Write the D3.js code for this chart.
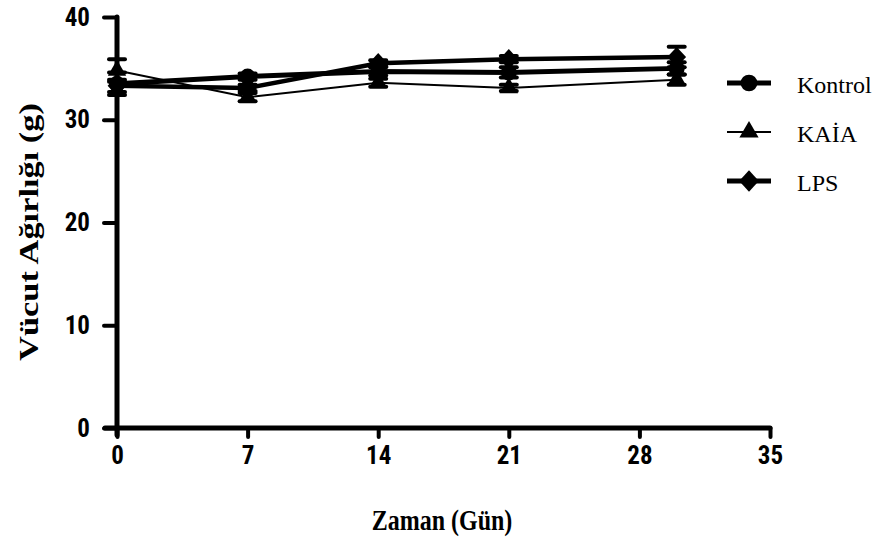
<!DOCTYPE html>
<html>
<head>
<meta charset="utf-8">
<script src="https://cdn.jsdelivr.net/npm/d3@7"></script>
<style>
  body { margin: 0; background: #fff; }
  .tick text { font-family: "Roboto Condensed", "Liberation Sans", Arial, sans-serif; font-weight: bold; }
  .serif { font-family: "Liberation Serif", "Times New Roman", serif; }
</style>
</head>
<body>
<div id="chart"></div>
<script>
// days and body weights (g)
var days = [0, 7, 14, 21, 30];
var kontrol = [33.5, 34.2, 34.7, 34.6, 35.0];
var kaia = [34.8, 32.2, 33.6, 33.1, 33.9];
var lps = [33.3, 33.1, 35.5, 35.9, 36.1];
var kontrolErr = [1.1, 0.3, 0.4, 0.5, 0.6];
var kaiaErr = [1.1, 0.4, 0.4, 0.3, 0.5];
var lpsErr = [0.6, 0.3, 0.3, 0.3, 1.0];
var xTicks = [0, 7, 14, 21, 28, 35];
var yTicks = [0, 10, 20, 30, 40];

const margin = { top: 17, right: 114, bottom: 115, left: 117 };
const width = 884 - margin.left - margin.right;
const height = 543 - margin.top - margin.bottom;

// wide diamond like the reference marker
var wideDiamond = {
  draw(ctx, size) {
    var h = Math.sqrt(size) * 0.72;
    var w = h * 0.92;
    ctx.moveTo(0, -h);
    ctx.lineTo(w, 0);
    ctx.lineTo(0, h);
    ctx.lineTo(-w, 0);
    ctx.closePath();
  }
};

var svg = d3.select("#chart")
  .append("svg")
  .attr("width", 884)
  .attr("height", 543);

var g = svg.append("g")
  .attr("transform", `translate(${margin.left},${margin.top})`);

var x = d3.scaleLinear().domain([0, 35]).range([0, width]);
var y = d3.scaleLinear().domain([0, 40]).range([height, 0]);

// axes
var xAxis = g.append("g")
  .attr("transform", `translate(0,${height})`)
  .call(d3.axisBottom(x).tickValues(xTicks).tickSize(9).tickPadding(9));
var yAxis = g.append("g")
  .call(d3.axisLeft(y).tickValues(yTicks).tickSize(13).tickPadding(14));

[xAxis, yAxis].forEach(a => {
  a.select(".domain").remove();
  a.selectAll(".tick line")
    .attr("stroke", "#000")
    .attr("stroke-width", 4)
    .attr("stroke-linecap", "round");
  a.selectAll(".tick text")
    .attr("fill", "#000")
    .style("font-size", "25px");
});

g.append("line")
  .attr("x1", -12).attr("x2", width)
  .attr("y1", height).attr("y2", height)
  .attr("stroke", "#000").attr("stroke-width", 5).attr("stroke-linecap", "round");
g.append("line")
  .attr("x1", 0).attr("x2", 0)
  .attr("y1", 0).attr("y2", height + 7)
  .attr("stroke", "#000").attr("stroke-width", 5).attr("stroke-linecap", "round");

// series
var series = [
  { name: "Kontrol", vals: kontrol, err: kontrolErr, width: 5, symbol: d3.symbolCircle, size: 200 },
  { name: "KAİA", vals: kaia, err: kaiaErr, width: 2, symbol: d3.symbolTriangle, size: 145 },
  { name: "LPS", vals: lps, err: lpsErr, width: 4.5, symbol: wideDiamond, size: 200 }
];

var line = d3.line()
  .x((d, i) => x(days[i]))
  .y(d => y(d));

series.forEach(s => {
  var sg = g.append("g");

  // error bars
  s.vals.forEach((v, i) => {
    var cx = x(days[i]);
    sg.append("line")
      .attr("x1", cx).attr("x2", cx)
      .attr("y1", y(v - s.err[i])).attr("y2", y(v + s.err[i]))
      .attr("stroke", "#000").attr("stroke-width", 3);
    [v - s.err[i], v + s.err[i]].forEach(e => {
      sg.append("line")
        .attr("x1", cx - 8).attr("x2", cx + 8)
        .attr("y1", y(e)).attr("y2", y(e))
        .attr("stroke", "#000").attr("stroke-width", 4).attr("stroke-linecap", "round");
    });
  });

  sg.append("path")
    .datum(s.vals)
    .attr("fill", "none")
    .attr("stroke", "#000")
    .attr("stroke-width", s.width)
    .attr("d", line);

  sg.selectAll("path.pt")
    .data(s.vals)
    .enter().append("path")
    .attr("class", "pt")
    .attr("transform", (d, i) => `translate(${x(days[i])},${y(d)})`)
    .attr("d", d3.symbol().type(s.symbol).size(s.size))
    .attr("fill", "#000");
});

// legend
var legend = svg.selectAll(".legend")
  .data(series)
  .enter().append("g")
  .attr("class", "legend")
  .attr("transform", (d, i) => `translate(727,${83 + i * 49})`);

legend.append("line")
  .attr("x1", 0).attr("x2", 44)
  .attr("y1", 0).attr("y2", 0)
  .attr("stroke", "#000")
  .attr("stroke-width", d => d.name === "KAİA" ? 2 : 5);

legend.append("path")
  .attr("transform", "translate(22,0)")
  .attr("d", d => d3.symbol().type(d.symbol).size(d.size * 1.1)())
  .attr("fill", "#000");

legend.append("text")
  .attr("class", "serif")
  .attr("x", 70)
  .attr("y", 10)
  .style("font-size", "24px")
  .text(d => d.name);

// axis titles (the original figure is stretched vertically)
var yTitle = svg.append("text")
  .attr("class", "serif")
  .attr("text-anchor", "middle")
  .style("font-weight", "bold")
  .style("font-size", "27px")
  .text("Vücut Ağırlığı (g)");
var yLen = yTitle.node().getComputedTextLength();
yTitle.attr("transform", `translate(38,232) rotate(-90) scale(${258 / yLen},1)`);

svg.append("text")
  .attr("class", "serif")
  .attr("text-anchor", "middle")
  .attr("transform", "translate(442,530) scale(1,1.25)")
  .style("font-weight", "bold")
  .style("font-size", "24px")
  .text("Zaman (Gün)");
</script>
</body>
</html>
